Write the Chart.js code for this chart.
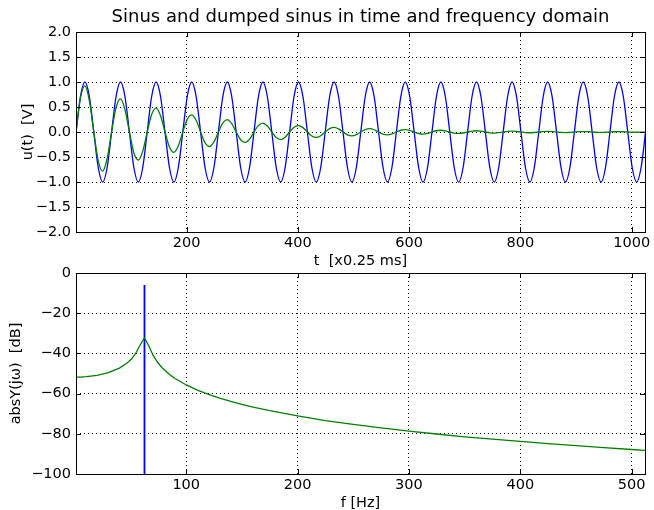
<!DOCTYPE html>
<html>
<head>
<meta charset="utf-8">
<script src="https://cdn.jsdelivr.net/npm/chart.js@4.4.1/dist/chart.umd.min.js"></script>
<style>
  html, body { margin: 0; padding: 0; background: #fff; overflow: hidden; }
  #wrap { position: relative; width: 654px; height: 510px; overflow: hidden; }
  canvas { position: absolute; left: 0; }
  #timeChart { top: 0; width: 654px; height: 270px; }
  #freqChart { top: 250px; width: 654px; height: 262px; }
</style>
</head>
<body>
<div id="wrap">
  <canvas id="timeChart" width="654" height="270"></canvas>
  <canvas id="freqChart" width="654" height="262"></canvas>
</div>
<script>
// ---- Time domain, one sample every 8 steps (t = 1, 9, 17, ...) ----
const sampleStep = 8;
const sinusValues = [
  0, 0.71, 1, 0.71, 0, -0.71, -1, -0.71,
  0, 0.71, 1, 0.71, 0, -0.71, -1, -0.71,
  0, 0.71, 1, 0.71, 0, -0.71, -1, -0.71,
  0, 0.71, 1, 0.71, 0, -0.71, -1, -0.71,
  0, 0.71, 1, 0.71, 0, -0.71, -1, -0.71,
  0, 0.71, 1, 0.71, 0, -0.71, -1, -0.71,
  0, 0.71, 1, 0.71, 0, -0.71, -1, -0.71,
  0, 0.71, 1, 0.71, 0, -0.71, -1, -0.71,
  0, 0.71, 1, 0.71, 0, -0.71, -1, -0.71,
  0, 0.71, 1, 0.71, 0, -0.71, -1, -0.71,
  0, 0.71, 1, 0.71, 0, -0.71, -1, -0.71,
  0, 0.71, 1, 0.71, 0, -0.71, -1, -0.71,
  0, 0.71, 1, 0.71, 0, -0.71, -1, -0.71,
  0, 0.71, 1, 0.71, 0, -0.71, -1, -0.71,
  0, 0.71, 1, 0.71, 0, -0.71, -1, -0.71,
  0, 0.71, 1, 0.71, 0, -0.71, -1, -0.71,
  0
];
const dampedValues = [
  0, 0.679, 0.921, 0.625, 0, -0.576, -0.782, -0.530,
  0, 0.489, 0.663, 0.450, 0, -0.415, -0.563, -0.382,
  0, 0.352, 0.478, 0.324, 0, -0.299, -0.406, -0.275,
  0, 0.253, 0.344, 0.234, 0, -0.215, -0.292, -0.198,
  0, 0.183, 0.248, 0.168, 0, -0.155, -0.210, -0.143,
  0, 0.132, 0.179, 0.121, 0, -0.112, -0.152, -0.103,
  0, 0.095, 0.129, 0.087, 0, -0.080, -0.109, -0.074,
  0, 0.068, 0.093, 0.063, 0, -0.058, -0.079, -0.053,
  0, 0.049, 0.067, 0.045, 0, -0.042, -0.057, -0.038,
  0, 0.035, 0.048, 0.033, 0, -0.030, -0.041, -0.028,
  0, 0.025, 0.035, 0.023, 0, -0.022, -0.029, -0.020,
  0, 0.018, 0.025, 0.017, 0, -0.016, -0.021, -0.014,
  0, 0.013, 0.018, 0.012, 0, -0.011, -0.015, -0.010,
  0, 0.009, 0.013, 0.009, 0, -0.008, -0.011, -0.007,
  0, 0.007, 0.009, 0.006, 0, -0.005, -0.008, -0.005,
  0, 0.005, 0.007, 0.005, 0, -0.004, -0.005, -0.004,
  0
];
const timeTicks = [200, 400, 600, 800, 1000];
const voltTicks = [-2, -1.5, -1, -0.5, 0, 0.5, 1, 1.5, 2];

// ---- Frequency domain ----
// pure sine: a single line at 62.5 Hz, everything else far below the axis
const sinusFreq = [1, 62.5, 62.5, 62.5, 512];
const sinusDb = [-300, -300, -6, -300, -300];
const dampedFreq = [0, 5, 10, 20, 30, 40, 46.88, 50.78, 54.69, 58.59, 62.5, 66.41, 70.31, 74.22, 78.13,
  85, 90, 100, 110, 120, 130, 140, 150, 160, 175, 200, 225, 250, 275, 300, 325, 350, 375, 400,
  425, 450, 475, 500, 512];
const dampedDb = [-51.8, -51.8, -51.6, -50.9, -49.6, -47.3, -44.8, -42.8, -39.9, -35.8, -32.2, -36.3, -41.0, -44.4, -47.0,
  -50.5, -52.5, -55.7, -58.3, -60.4, -62.3, -63.9, -65.4, -66.7, -68.5, -71.1, -73.4, -75.3, -77.1, -78.7, -80.1, -81.5, -82.7, -83.8,
  -84.9, -85.9, -86.9, -87.8, -88.2];
const freqTicks = [100, 200, 300, 400, 500];
const dbTicks = [-100, -80, -60, -40, -20, 0];

Chart.defaults.font.family = "'DejaVu Sans', sans-serif";
Chart.defaults.font.size = 14.5;
Chart.defaults.color = "#000";

const tickLen = 5;

// matplotlib style minus sign
function fmt(v, digits) {
  return v.toFixed(digits).replace("-", "\u2212");
}

function toPoints(xs, ys) {
  return ys.map((y, i) => ({ x: xs[i], y: y }));
}

// Solid frame and inward tick marks on all four sides
const framePlugin = {
  id: "frame",
  afterDraw(chart) {
    const { ctx, chartArea: a, scales } = chart;
    const al = (p) => Math.round(p) + 0.5;
    ctx.save();
    ctx.strokeStyle = "#000";
    ctx.lineWidth = 1;
    ctx.beginPath();
    scales.x.ticks.forEach((t) => {
      const px = al(scales.x.getPixelForValue(t.value));
      ctx.moveTo(px, a.top);
      ctx.lineTo(px, a.top + tickLen);
      ctx.moveTo(px, a.bottom);
      ctx.lineTo(px, a.bottom - tickLen);
    });
    scales.y.ticks.forEach((t) => {
      const py = al(scales.y.getPixelForValue(t.value));
      ctx.moveTo(a.left, py);
      ctx.lineTo(a.left + tickLen, py);
      ctx.moveTo(a.right, py);
      ctx.lineTo(a.right - tickLen, py);
    });
    ctx.stroke();
    ctx.strokeRect(al(a.left), al(a.top), Math.round(a.right - a.left), Math.round(a.bottom - a.top));
    ctx.restore();
  },
};

function axis(min, max, ticks, label, labelFmt, opts) {
  return {
    type: "linear",
    min: min,
    max: max,
    afterBuildTicks: (s) => {
      s.ticks = ticks.map((v) => ({ value: v }));
    },
    afterFit: opts.fit,
    grid: { color: "#000", lineWidth: 1, drawTicks: false },
    border: { display: false, dash: [1, 3] },
    ticks: { padding: opts.pad, autoSkip: false, maxRotation: 0, callback: labelFmt },
    title: { display: true, text: label, padding: { top: opts.titlePad, bottom: 0 } },
  };
}

const timeX = sinusValues.map((_, i) => 1 + i * sampleStep);

new Chart(document.getElementById("timeChart"), {
  type: "line",
  data: {
    datasets: [
      {
        data: toPoints(timeX, dampedValues),
        borderColor: "#008000",
        borderWidth: 1.3,
        pointRadius: 0,
        cubicInterpolationMode: "monotone",
        order: 0,
      },
      {
        data: toPoints(timeX, sinusValues),
        borderColor: "#0000ff",
        borderWidth: 1.3,
        pointRadius: 0,
        cubicInterpolationMode: "monotone",
        order: 1,
      },
    ],
  },
  options: {
    responsive: false,
    animation: false,
    events: [],
    layout: { padding: { left: 0, right: 9, top: 0, bottom: 0 } },
    plugins: {
      legend: { display: false },
      tooltip: { enabled: false },
      title: {
        display: true,
        fullSize: false,
        text: "Sinus and dumped sinus in time and frequency domain",
        font: { size: 18, weight: "normal" },
        padding: { top: 6.5, bottom: 3.9 },
      },
    },
    scales: {
      x: axis(1, 1024, timeTicks, "t  [x0.25 ms]", (v) => String(v), {
        fit: (s) => { s.height = 38; }, pad: 3, titlePad: 0,
      }),
      y: axis(-2, 2, voltTicks, "u(t)  [V]", (v) => fmt(v, 1), {
        fit: (s) => { s.width = 76; }, pad: 5, titlePad: 19.5,
      }),
    },
  },
  plugins: [framePlugin],
});

new Chart(document.getElementById("freqChart"), {
  type: "line",
  data: {
    datasets: [
      {
        data: toPoints(dampedFreq, dampedDb),
        borderColor: "#008000",
        borderWidth: 1.3,
        pointRadius: 0,
        tension: 0,
        order: 0,
      },
      {
        data: toPoints(sinusFreq, sinusDb),
        borderColor: "#0000ff",
        borderWidth: 1.8,
        pointRadius: 0,
        tension: 0,
        order: 1,
      },
    ],
  },
  options: {
    responsive: false,
    animation: false,
    events: [],
    layout: { padding: { left: 0, right: 9, top: 23, bottom: 0 } },
    plugins: {
      legend: { display: false },
      tooltip: { enabled: false },
    },
    scales: {
      x: axis(1, 512, freqTicks, "f [Hz]", (v) => String(v), {
        fit: (s) => { s.height = 38; }, pad: 3, titlePad: 0,
      }),
      y: axis(-100, 0, dbTicks, "absY(jω)  [dB]", (v) => fmt(v, 0), {
        fit: (s) => { s.width = 76; }, pad: 5, titlePad: 8,
      }),
    },
  },
  plugins: [framePlugin],
});
</script>
</body>
</html>
